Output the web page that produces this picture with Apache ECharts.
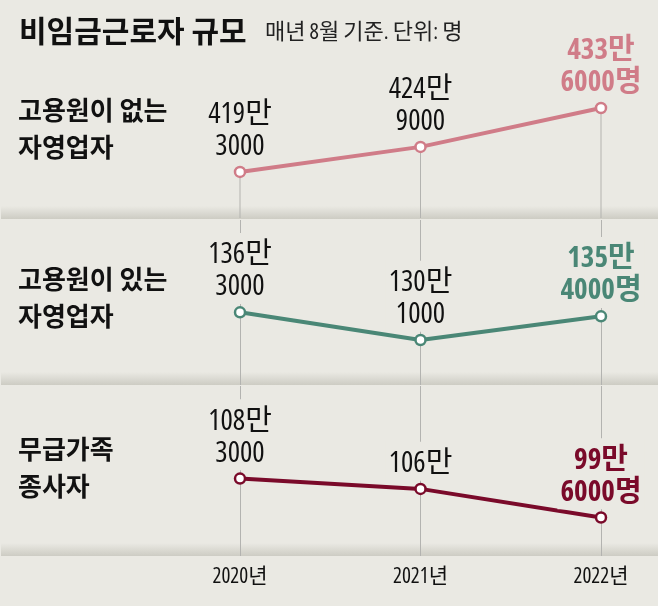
<!DOCTYPE html>
<html><head><meta charset="utf-8">
<script src="https://cdn.jsdelivr.net/npm/echarts@6/dist/echarts.min.js"></script>
<style>html,body{margin:0;padding:0;background:#eae9e3}#c{width:658px;height:606px}</style>
</head><body><div id="c"></div>
<script>
// Data (persons)
const years = ['2020년', '2021년', '2022년'];
const groupNames = ['고용원이 없는\n자영업자', '고용원이 있는\n자영업자', '무급가족\n종사자'];
const noEmployee = [4193000, 4249000, 4336000];
const withEmployee = [1363000, 1301000, 1354000];
const unpaidFamily = [1083000, 1060000, 996000];
const titleText = '비임금근로자 규모';
const subtitleText = '매년 8월 기준. 단위: 명';

const BG = '#eae9e3';
const colors = ['#d07c88', '#4a8776', '#7a0a2a'];
const NUM_FONT = '"Open Sans", "Noto Sans CJK KR", sans-serif';
const KR_FONT = '"Noto Sans CJK KR", sans-serif';

function fmt(v, last) {
  const man = Math.floor(v / 10000);
  const rest = v % 10000;
  let s = man + '만';
  if (rest) s += '\n' + rest + (last ? '명' : '');
  return s;
}

const grids = [
  {left: 240, right: 57, top: 57, height: 161},
  {left: 240, right: 57, top: 220, height: 165},
  {left: 240, right: 57, top: 386, height: 170}
];
const ranges = [[4090000, 4450000], [1200000, 1570000], [910000, 1290000]];
const datasets = [noEmployee, withEmployee, unpaidFamily];

const xAxis = grids.map((g, i) => ({
  type: 'category', gridIndex: i, data: years, boundaryGap: false,
  axisLine: {show: false}, axisTick: {show: false},
  axisLabel: {show: i === 2, margin: 11, fontSize: 21, fontStyle: 'condensed', color: '#111', fontFamily: NUM_FONT},
  splitLine: {show: i > 0, lineStyle: {color: '#b3b3b0', width: 1}}
}));
const yAxis = grids.map((g, i) => ({
  type: 'value', gridIndex: i, min: ranges[i][0], max: ranges[i][1], show: false,
  splitLine: {show: false}
}));

const series = [];
datasets.forEach((d, i) => {
  series.push({
    type: 'line', xAxisIndex: i, yAxisIndex: i, z: 3,
    data: d.map((v, j) => {
      const last = j === d.length - 1;
      return {
        value: v,
        label: last ? {fontWeight: 'bold', color: colors[i]} : {}
      };
    }),
    lineStyle: {color: colors[i], width: 4},
    itemStyle: {color: '#fff', borderColor: colors[i], borderWidth: 2.5},
    symbol: 'circle', symbolSize: 10, showSymbol: true,
    animation: false,
    label: {
      show: true, position: 'top', distance: 2,
      formatter: p => fmt(p.value, p.dataIndex === d.length - 1),
      fontFamily: NUM_FONT, fontStyle: 'condensed', fontSize: 29, lineHeight: 32, color: '#111',
      align: 'center',
      backgroundColor: i > 0 ? BG : 'transparent',
      padding: [6, 3, 1, 3]
    }
  });
});
// vertical guide lines below markers in the first panel
series.push({
  type: 'bar', xAxisIndex: 0, yAxisIndex: 0, z: 1, barWidth: 1,
  data: noEmployee, itemStyle: {color: '#b3b3b0'}, silent: true, animation: false
});

const graphic = [];
// panel bottom bands
[219, 385, 556].forEach(yb => {
  graphic.push({
    type: 'rect', z: -10, silent: true,
    shape: {x: 1, y: yb - 13, width: 657, height: 13},
    style: {fill: new echarts.graphic.LinearGradient(0, 0, 0, 1, [
      {offset: 0, color: 'rgba(200,199,190,0)'},
      {offset: 1, color: 'rgba(200,199,190,0.85)'}
    ])}
  });
});
graphic.push({type: 'text', left: 19, top: 16, style: {text: titleText, font: 'bold 30px ' + KR_FONT, fill: '#111'}});
graphic.push({type: 'text', left: 265, top: 22, style: {text: subtitleText, font: 'condensed 22px ' + NUM_FONT, fill: '#222'}});
const labelTops = [92, 261, 431];
groupNames.forEach((n, i) => {
  graphic.push({type: 'text', left: 18, top: labelTops[i], style: {text: n, font: 'bold 26px ' + KR_FONT, lineHeight: 37, fill: '#111'}});
});

const chart = echarts.init(document.getElementById('c'));
chart.setOption({
  backgroundColor: BG,
  animation: false,
  grid: grids,
  xAxis, yAxis, series, graphic
});
</script></body></html>
